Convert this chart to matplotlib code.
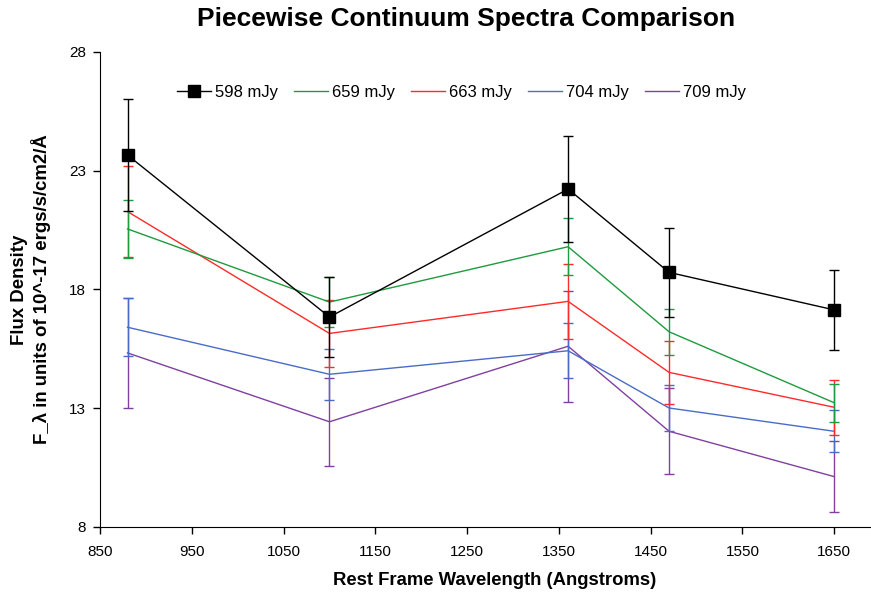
import matplotlib
matplotlib.use("Agg")
import matplotlib.pyplot as plt

plt.rcParams['font.family'] = ['Liberation Sans', 'DejaVu Sans']

# wavelengths (Angstroms)
wavelength = [880, 1100, 1360, 1470, 1650]

labels = ["598 mJy", "659 mJy", "663 mJy", "704 mJy", "709 mJy"]
colors = ["#000000", "#1f9a3f", "#ff2a2a", "#4a6cc8", "#8040a0"]

flux_598 = [23.66, 16.84, 22.23, 18.72, 17.14]
err_598 = [2.35, 1.70, 2.22, 1.87, 1.70]

flux_659 = [20.55, 17.47, 19.80, 16.22, 13.23]
err_659 = [1.22, 1.05, 1.20, 0.97, 0.79]

flux_663 = [21.28, 16.15, 17.50, 14.51, 13.04]
err_663 = [1.93, 1.42, 1.58, 1.32, 1.16]

flux_704 = [16.41, 14.43, 15.42, 13.01, 12.03]
err_704 = [1.22, 1.07, 1.15, 0.97, 0.89]

flux_709 = [15.33, 12.43, 15.61, 12.03, 10.12]
err_709 = [2.33, 1.85, 2.33, 1.81, 1.50]

fluxes = [flux_598, flux_659, flux_663, flux_704, flux_709]
errors = [err_598, err_659, err_663, err_704, err_709]

fig = plt.figure(figsize=(8.71, 5.94), dpi=100)
ax = fig.add_axes([0.1148, 0.1128, 0.8852, 0.7997])

# draw in reverse so black series sits on top
for i in reversed(range(5)):
    ax.errorbar(wavelength, fluxes[i], yerr=errors[i], fmt='none',
                ecolor=colors[i], elinewidth=1.0, capsize=3.8, capthick=1.0)
    if i == 0:
        ax.plot(wavelength, fluxes[i], color=colors[i], lw=1.0, marker='s',
                markersize=8.5, label=labels[i], zorder=5)
    else:
        ax.plot(wavelength, fluxes[i], color=colors[i], lw=1.0, label=labels[i])

ax.set_xlim(850, 1690)
ax.set_ylim(8, 28)
ax.set_xticks(range(850, 1651, 100))
ax.set_yticks([8, 13, 18, 23, 28])
ax.tick_params(direction='out', length=5, width=1, labelsize=11)
ax.tick_params(axis='x', pad=8)
ax.tick_params(axis='y', pad=5)
ax.spines['top'].set_visible(False)
ax.spines['right'].set_visible(False)

handles, labs = ax.get_legend_handles_labels()
order = [labs.index(l) for l in labels]
ax.legend([handles[k] for k in order], labels, loc='upper left',
          bbox_to_anchor=(0.080, 0.962), ncol=5, frameon=False, fontsize=12,
          handlelength=2.05, columnspacing=0.95, handletextpad=0.25)

ax.set_xlabel("Rest Frame Wavelength (Angstroms)", fontsize=13.3, fontweight='bold', labelpad=9)
ax.xaxis.label.set_x(0.512)
ax.set_ylabel("Flux Density\nF_\u03bb in units of 10^-17 ergs/s/cm2/\u00c5",
              fontsize=13.4, fontweight='bold', labelpad=13)
fig.suptitle("Piecewise Continuum Spectra Comparison", fontsize=19, fontweight='bold',
             x=0.535, y=0.988)

fig.savefig("out.png", dpi=100)
